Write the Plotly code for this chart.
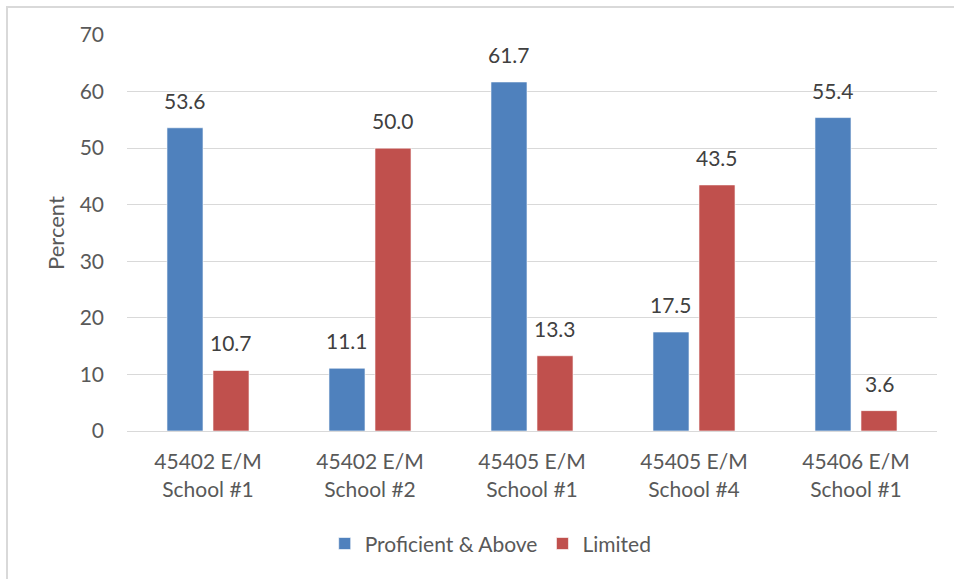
import plotly.graph_objects as go

categories = ["45402 E/M<br>School #1", "45402 E/M<br>School #2", "45405 E/M<br>School #1",
              "45405 E/M<br>School #4", "45406 E/M<br>School #1"]
proficient = [53.6, 11.1, 61.7, 17.5, 55.4]
limited = [10.7, 50.0, 13.3, 43.5, 3.6]
y_ticks = [0, 10, 20, 30, 40, 50, 60, 70]

FONT = "Lato, Open Sans, sans-serif"
TXT = "#595959"
SIZE = 21

series = [("Proficient & Above", proficient, "#4F81BD", -23),
          ("Limited", limited, "#C0504D", 23)]

fig = go.Figure()
annotations = []
for name, vals, color, dx in series:
    fig.add_trace(go.Bar(
        x=categories, y=vals, name=name,
        marker=dict(color=color, line=dict(color="rgba(255,255,255,0.6)", width=1)),
    ))
    # value labels sit a little above each bar
    for cat, v in zip(categories, vals):
        annotations.append(dict(
            x=cat, y=v, xref="x", yref="y", text=f"{v:.1f}", showarrow=False,
            xshift=dx, yshift=13, yanchor="bottom", xanchor="center",
            font=dict(family=FONT, size=SIZE, color="#404040"),
        ))

fig.update_layout(
    width=954, height=579,
    margin=dict(l=127, r=17, t=35, b=148),
    paper_bgcolor="white", plot_bgcolor="white",
    barmode="group", bargap=0.432, bargroupgap=0.217,
    font=dict(family=FONT, color=TXT),
    showlegend=True,
    legend=dict(orientation="h", x=0.449, xanchor="center", y=-0.285, yanchor="middle",
                font=dict(family=FONT, size=SIZE, color=TXT), itemwidth=30,
                traceorder="normal"),
    xaxis=dict(tickfont=dict(family=FONT, size=SIZE, color=TXT), showgrid=False,
               showline=True, linecolor="#D9D9D9", linewidth=1, ticks="",
               ticklabelstandoff=12),
    yaxis=dict(range=[0, 70], tickvals=y_ticks, tickfont=dict(family=FONT, size=SIZE, color=TXT),
               showgrid=True, gridcolor="#D9D9D9", gridwidth=1, zeroline=False,
               title=dict(text="Percent", font=dict(family=FONT, size=22, color=TXT), standoff=8),
               ticks="", ticklabelstandoff=22),
    annotations=annotations,
    shapes=[dict(type="rect", xref="paper", yref="paper",
                 x0=-120 / 810, x1=1.1, y0=-1.0, y1=1 + 28 / 396,
                 line=dict(color="#D9D9D9", width=2), fillcolor="rgba(0,0,0,0)", layer="below")],
)

fig.write_html("out.html")
